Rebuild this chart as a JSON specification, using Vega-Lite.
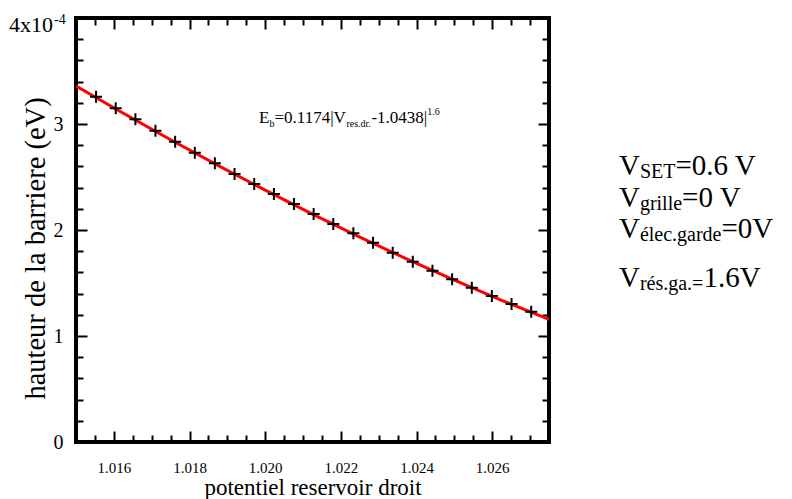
{
  "$schema": "https://vega.github.io/schema/vega-lite/v6.json",
  "width": 473,
  "height": 424,
  "autosize": {"type": "none"},
  "padding": {"left": 76, "top": 18, "right": 243, "bottom": 57},
  "background": "white",
  "config": {
    "font": "Liberation Serif",
    "view": {"stroke": "black", "strokeWidth": 4},
    "axis": {
      "domain": false, "grid": false, "tickColor": "black", "tickWidth": 2,
      "labelColor": "black", "titleColor": "black", "labelFont": "Liberation Serif",
      "titleFont": "Liberation Serif", "titleFontWeight": "normal",
      "labelOverlap": false, "labelFlush": false
    }
  },
  "datasets": {
    "fit": [
      {"v": 1.015, "e": 3.358}, {"v": 1.01625, "e": 3.101}, {"v": 1.0175, "e": 2.852},
      {"v": 1.01875, "e": 2.610}, {"v": 1.020, "e": 2.376}, {"v": 1.02125, "e": 2.149},
      {"v": 1.0225, "e": 1.933}, {"v": 1.02375, "e": 1.725}, {"v": 1.025, "e": 1.526},
      {"v": 1.02625, "e": 1.336}, {"v": 1.0275, "e": 1.156}
    ],
    "pts": [
      {"v": 1.01553, "e": 3.257}, {"v": 1.01605, "e": 3.148}, {"v": 1.01657, "e": 3.044},
      {"v": 1.01710, "e": 2.937}, {"v": 1.01762, "e": 2.833}, {"v": 1.01814, "e": 2.729},
      {"v": 1.01867, "e": 2.629}, {"v": 1.01919, "e": 2.528}, {"v": 1.01971, "e": 2.434},
      {"v": 1.02023, "e": 2.340}, {"v": 1.02076, "e": 2.245}, {"v": 1.02128, "e": 2.151},
      {"v": 1.02180, "e": 2.057}, {"v": 1.02233, "e": 1.969}, {"v": 1.02285, "e": 1.880},
      {"v": 1.02337, "e": 1.786}, {"v": 1.02390, "e": 1.701}, {"v": 1.02442, "e": 1.616},
      {"v": 1.02494, "e": 1.535}, {"v": 1.02546, "e": 1.456}, {"v": 1.02599, "e": 1.377},
      {"v": 1.02651, "e": 1.302}, {"v": 1.02703, "e": 1.229}
    ],
    "eqBig": [
      {"v": 1.019837, "e": 3.009, "t": "E"},
      {"v": 1.020244, "e": 3.009, "t": "=0.1174|V"},
      {"v": 1.022807, "e": 3.009, "t": "-1.0438|"}
    ],
    "eqSub": [
      {"v": 1.020111, "e": 3.009, "t": "b"},
      {"v": 1.022146, "e": 3.009, "t": "res.dr."}
    ],
    "eqSup": [
      {"v": 1.024282, "e": 3.009, "t": "1.6"}
    ],
    "rBig": [
      {"v": 1.029349, "e": 2.519, "t": "V"},
      {"v": 1.030843, "e": 2.519, "t": "=0.6 V"},
      {"v": 1.029349, "e": 2.217, "t": "V"},
      {"v": 1.031018, "e": 2.217, "t": "=0 V"},
      {"v": 1.029349, "e": 1.925, "t": "V"},
      {"v": 1.032059, "e": 1.925, "t": "=0V"},
      {"v": 1.029349, "e": 1.462, "t": "V"},
      {"v": 1.031580, "e": 1.462, "t": "1.6V"}
    ],
    "rSub": [
      {"v": 1.029902, "e": 2.519, "t": "SET"},
      {"v": 1.029902, "e": 2.217, "t": "grille"},
      {"v": 1.029902, "e": 1.925, "t": "élec.garde"},
      {"v": 1.029902, "e": 1.462, "t": "rés.ga.="}
    ],
    "topBase": [
      {"v": 1.014392, "e": 3.868, "t": "4x10"}
    ],
    "topExp": [
      {"v": 1.014419, "e": 3.943, "t": "-4"}
    ]
  },
  "layer": [
    {
      "data": {"name": "fit"},
      "mark": {"type": "line", "color": "#ff0000", "strokeWidth": 3, "clip": true},
      "encoding": {
        "x": {"field": "v", "type": "quantitative",
          "scale": {"domain": [1.015, 1.0275], "nice": false, "zero": false},
          "axis": {
            "orient": "bottom",
            "values": [1.0155, 1.016, 1.0165, 1.017, 1.0175, 1.018, 1.0185, 1.019, 1.0195, 1.02, 1.0205, 1.021, 1.0215, 1.022, 1.0225, 1.023, 1.0235, 1.024, 1.0245, 1.025, 1.0255, 1.026, 1.0265, 1.027],
            "format": ".3f",
            "labelExpr": "(abs(datum.value*1000-round(datum.value*1000))<0.01 && round(datum.value*1000)%2==0) ? datum.label : ''",
            "tickSize": {"condition": {"test": "abs(datum.value*1000-round(datum.value*1000))<0.01 && round(datum.value*1000)%2==0", "value": -11}, "value": -7},
            "labelFontSize": 15,
            "labelPadding": 29,
            "title": "potentiel reservoir droit",
            "titleFontSize": 23,
            "titlePadding": -3
          }
        },
        "y": {"field": "e", "type": "quantitative",
          "scale": {"domain": [0, 4], "nice": false},
          "axis": {
            "orient": "left",
            "values": [0, 0.2, 0.4, 0.6, 0.8, 1, 1.2, 1.4, 1.6, 1.8, 2, 2.2, 2.4, 2.6, 2.8, 3, 3.2, 3.4, 3.6, 3.8],
            "labelExpr": "abs(datum.value-round(datum.value))<0.001 ? format(datum.value,'d') : ''",
            "tickSize": {"condition": {"test": "abs(datum.value-round(datum.value))<0.001", "value": -11}, "value": -7},
            "labelFontSize": 20,
            "labelPadding": 24,
            "title": "hauteur de la barriere (eV)",
            "titleFontSize": 28.5,
            "titlePadding": 3,
            "titleY": 230
          }
        }
      }
    },
    {
      "data": {"name": "pts"},
      "mark": {"type": "point", "shape": "M-1,0L1,0M0,-1L0,1", "size": 144, "strokeWidth": 2, "color": "black", "filled": false, "opacity": 1},
      "encoding": {
        "x": {"field": "v", "type": "quantitative",
          "scale": {"domain": [1.015, 1.0275], "nice": false, "zero": false},
          "axis": {
            "orient": "top",
            "values": [1.0155, 1.016, 1.0165, 1.017, 1.0175, 1.018, 1.0185, 1.019, 1.0195, 1.02, 1.0205, 1.021, 1.0215, 1.022, 1.0225, 1.023, 1.0235, 1.024, 1.0245, 1.025, 1.0255, 1.026, 1.0265, 1.027],
            "labels": false,
            "tickSize": {"condition": {"test": "abs(datum.value*1000-round(datum.value*1000))<0.01 && round(datum.value*1000)%2==0", "value": -11}, "value": -7},
            "title": null
          }
        },
        "y": {"field": "e", "type": "quantitative",
          "scale": {"domain": [0, 4], "nice": false},
          "axis": {
            "orient": "right",
            "values": [0.2, 0.4, 0.6, 0.8, 1, 1.2, 1.4, 1.6, 1.8, 2, 2.2, 2.4, 2.6, 2.8, 3, 3.2, 3.4, 3.6, 3.8],
            "labels": false,
            "tickSize": {"condition": {"test": "abs(datum.value-round(datum.value))<0.001", "value": -11}, "value": -7},
            "title": null
          }
        }
      }
    },
    {
      "data": {"name": "eqBig"},
      "mark": {"type": "text", "align": "left", "baseline": "alphabetic", "fontSize": 17, "color": "black", "font": "Liberation Serif"},
      "encoding": {
        "x": {"field": "v", "type": "quantitative", "scale": {"domain": [1.015, 1.0275], "nice": false, "zero": false}, "axis": null},
        "y": {"field": "e", "type": "quantitative", "scale": {"domain": [0, 4], "nice": false}, "axis": null},
        "text": {"field": "t"}
      }
    },
    {
      "data": {"name": "eqSub"},
      "mark": {"type": "text", "align": "left", "baseline": "alphabetic", "fontSize": 10, "dy": 4, "color": "black", "font": "Liberation Serif"},
      "encoding": {
        "x": {"field": "v", "type": "quantitative", "scale": {"domain": [1.015, 1.0275], "nice": false, "zero": false}, "axis": null},
        "y": {"field": "e", "type": "quantitative", "scale": {"domain": [0, 4], "nice": false}, "axis": null},
        "text": {"field": "t"}
      }
    },
    {
      "data": {"name": "eqSup"},
      "mark": {"type": "text", "align": "left", "baseline": "alphabetic", "fontSize": 10, "dy": -8, "color": "black", "font": "Liberation Serif"},
      "encoding": {
        "x": {"field": "v", "type": "quantitative", "scale": {"domain": [1.015, 1.0275], "nice": false, "zero": false}, "axis": null},
        "y": {"field": "e", "type": "quantitative", "scale": {"domain": [0, 4], "nice": false}, "axis": null},
        "text": {"field": "t"}
      }
    },
    {
      "data": {"name": "rBig"},
      "mark": {"type": "text", "align": "left", "baseline": "alphabetic", "fontSize": 29, "color": "black", "font": "Liberation Serif"},
      "encoding": {
        "x": {"field": "v", "type": "quantitative", "scale": {"domain": [1.015, 1.0275], "nice": false, "zero": false}, "axis": null},
        "y": {"field": "e", "type": "quantitative", "scale": {"domain": [0, 4], "nice": false}, "axis": null},
        "text": {"field": "t"}
      }
    },
    {
      "data": {"name": "rSub"},
      "mark": {"type": "text", "align": "left", "baseline": "alphabetic", "fontSize": 20, "dy": 3, "color": "black", "font": "Liberation Serif"},
      "encoding": {
        "x": {"field": "v", "type": "quantitative", "scale": {"domain": [1.015, 1.0275], "nice": false, "zero": false}, "axis": null},
        "y": {"field": "e", "type": "quantitative", "scale": {"domain": [0, 4], "nice": false}, "axis": null},
        "text": {"field": "t"}
      }
    },
    {
      "data": {"name": "topBase"},
      "mark": {"type": "text", "align": "right", "baseline": "alphabetic", "fontSize": 22, "color": "black", "font": "Liberation Serif"},
      "encoding": {
        "x": {"field": "v", "type": "quantitative", "scale": {"domain": [1.015, 1.0275], "nice": false, "zero": false}, "axis": null},
        "y": {"field": "e", "type": "quantitative", "scale": {"domain": [0, 4], "nice": false}, "axis": null},
        "text": {"field": "t"}
      }
    },
    {
      "data": {"name": "topExp"},
      "mark": {"type": "text", "align": "left", "baseline": "alphabetic", "fontSize": 14, "color": "black", "font": "Liberation Serif"},
      "encoding": {
        "x": {"field": "v", "type": "quantitative", "scale": {"domain": [1.015, 1.0275], "nice": false, "zero": false}, "axis": null},
        "y": {"field": "e", "type": "quantitative", "scale": {"domain": [0, 4], "nice": false}, "axis": null},
        "text": {"field": "t"}
      }
    }
  ],
  "resolve": {"axis": {"x": "independent", "y": "independent"}}
}
